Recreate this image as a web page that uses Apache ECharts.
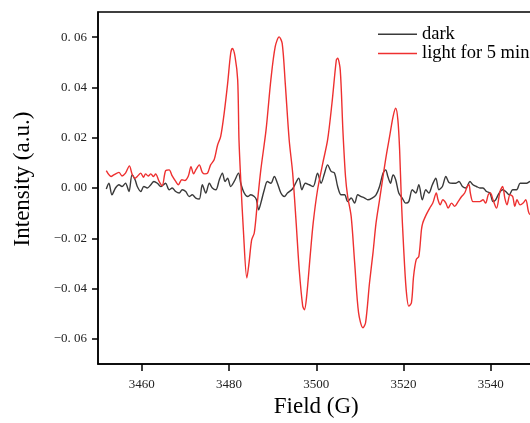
<!DOCTYPE html>
<html>
<head>
<meta charset="utf-8">
<script src="https://cdn.jsdelivr.net/npm/echarts@6/dist/echarts.min.js"></script>
<style>
html,body{margin:0;padding:0;background:#fff;}
#chart{width:530px;height:423px;}
</style>
</head>
<body>
<div id="chart"></div>
<script>
var xTicks = [3460, 3480, 3500, 3520, 3540];
var yTicks = [-0.06, -0.04, -0.02, 0.00, 0.02, 0.04, 0.06];
var seriesNames = ['dark', 'light for 5 min'];

var darkData = [
[3451.9,-0.0004],[3452.5,0.0019],[3453.2,-0.0027],[3454.0,0.0000],[3454.8,0.0013],[3455.5,0.0006],
[3456.3,0.0019],[3457.1,-0.0014],[3457.8,0.0052],[3458.5,0.0033],[3459.0,0.0006],[3459.8,-0.0014],
[3460.5,0.0006],[3461.3,0.0000],[3462.1,0.0013],[3462.8,0.0026],[3463.6,0.0019],[3464.4,0.0006],
[3465.0,0.0013],[3465.5,0.0019],[3466.3,-0.0007],[3467.0,0.0000],[3467.8,-0.0014],[3468.6,-0.0020],
[3469.3,-0.0007],[3470.1,-0.0014],[3470.9,-0.0034],[3471.6,-0.0027],[3472.4,-0.0040],[3473.2,-0.0044],
[3473.9,0.0013],[3474.7,-0.0020],[3475.5,0.0019],[3476.2,0.0000],[3477.0,-0.0007],[3477.8,0.0033],
[3478.5,0.0059],[3479.1,0.0026],[3479.7,0.0039],[3480.4,0.0006],[3481.2,0.0026],[3482.2,0.0059],
[3482.7,0.0019],[3483.5,-0.0020],[3484.3,-0.0034],[3485.0,-0.0027],[3485.8,-0.0034],[3486.3,-0.0047],
[3486.8,-0.0087],[3487.3,-0.0060],[3488.1,-0.0007],[3488.8,0.0026],[3489.6,0.0019],[3490.4,0.0046],
[3491.1,0.0019],[3491.9,-0.0020],[3492.7,-0.0034],[3493.4,-0.0020],[3494.6,-0.0003],[3496.0,0.0039],
[3496.7,-0.0007],[3497.5,0.0019],[3498.4,0.0013],[3499.3,0.0006],[3500.3,0.0059],[3501.1,0.0019],
[3501.9,0.0059],[3502.6,0.0092],[3503.4,0.0066],[3504.2,0.0059],[3504.9,0.0006],[3505.7,-0.0027],
[3506.5,-0.0027],[3507.2,-0.0054],[3508.0,-0.0040],[3508.8,-0.0060],[3509.5,-0.0027],[3510.3,-0.0034],
[3511.1,-0.0040],[3511.8,-0.0047],[3512.8,-0.0040],[3513.7,-0.0027],[3514.5,0.0006],[3515.3,0.0059],
[3515.9,0.0072],[3516.4,0.0046],[3517.0,0.0019],[3517.6,0.0052],[3518.2,0.0033],[3518.9,-0.0020],
[3519.7,-0.0040],[3520.5,-0.0060],[3521.2,-0.0054],[3522.0,-0.0007],[3522.8,-0.0020],[3523.5,0.0013],
[3524.3,-0.0047],[3525.1,-0.0007],[3525.8,-0.0020],[3526.6,0.0013],[3527.4,0.0039],[3528.1,-0.0007],
[3528.9,0.0006],[3529.7,0.0046],[3530.4,0.0022],[3531.2,0.0019],[3532.0,0.0019],[3532.7,0.0026],
[3533.5,0.0006],[3534.3,0.0000],[3535.2,0.0026],[3535.9,0.0013],[3536.7,0.0006],[3537.5,0.0000],
[3538.2,0.0000],[3539.0,-0.0014],[3539.8,-0.0020],[3540.5,-0.0054],[3541.1,-0.0047],[3541.9,-0.0020],
[3542.7,-0.0007],[3543.4,-0.0014],[3544.2,-0.0027],[3545.0,-0.0007],[3545.9,-0.0007],[3546.7,0.0019],
[3547.4,0.0019],[3548.2,0.0019],[3549.0,0.0026],[3549.6,0.0022],[3550.0,0.0024]
];

var lightData = [
[3451.9,0.0069],[3453.0,0.0046],[3453.6,0.0052],[3454.8,0.0062],[3455.5,0.0048],[3456.3,0.0059],
[3457.2,0.0088],[3457.8,0.0056],[3458.5,0.0039],[3459.0,0.0046],[3459.8,0.0059],[3460.4,0.0043],
[3460.9,0.0056],[3461.5,0.0048],[3462.1,0.0056],[3462.7,0.0046],[3463.2,0.0056],[3464.0,0.0026],
[3464.7,0.0009],[3465.5,0.0069],[3466.3,0.0072],[3467.0,0.0048],[3467.8,0.0026],[3468.4,0.0013],
[3469.2,0.0033],[3469.9,0.0030],[3470.7,0.0048],[3471.3,0.0085],[3471.9,0.0056],[3472.5,0.0075],
[3473.2,0.0092],[3473.9,0.0062],[3474.5,0.0056],[3475.1,0.0059],[3475.8,0.0092],[3476.6,0.0112],
[3477.4,0.0171],[3478.1,0.0204],[3478.9,0.0297],[3479.7,0.0416],[3480.4,0.0536],[3480.8,0.0555],
[3481.4,0.0522],[3482.0,0.0430],[3482.3,0.0191],[3482.7,0.0033],[3483.3,-0.0166],[3484.1,-0.0358],
[3484.6,-0.0298],[3485.2,-0.0206],[3485.8,-0.0179],[3486.5,-0.0060],[3487.3,0.0072],[3488.5,0.0231],
[3489.6,0.0430],[3490.6,0.0562],[3491.5,0.0601],[3492.2,0.0575],[3492.9,0.0416],[3493.8,0.0191],
[3494.6,0.0059],[3495.4,-0.0139],[3496.1,-0.0325],[3496.9,-0.0470],[3497.3,-0.0484],[3497.8,-0.0431],
[3498.6,-0.0272],[3499.3,-0.0139],[3500.3,-0.0007],[3501.5,0.0099],[3502.6,0.0191],[3503.6,0.0337],
[3504.6,0.0509],[3504.9,0.0516],[3505.5,0.0469],[3506.1,0.0231],[3506.7,0.0046],[3507.2,-0.0034],
[3508.0,-0.0113],[3508.8,-0.0298],[3509.7,-0.0497],[3510.7,-0.0556],[3511.3,-0.0536],[3512.2,-0.0378],
[3513.0,-0.0258],[3513.7,-0.0139],[3514.5,-0.0047],[3515.3,0.0046],[3516.0,0.0125],[3516.8,0.0204],
[3517.6,0.0284],[3518.2,0.0317],[3518.7,0.0271],[3519.1,0.0152],[3519.5,-0.0047],[3520.0,-0.0232],
[3520.6,-0.0404],[3521.2,-0.0470],[3521.8,-0.0457],[3522.3,-0.0351],[3522.9,-0.0285],[3523.5,-0.0272],
[3524.1,-0.0166],[3524.4,-0.0139],[3525.2,-0.0106],[3526.0,-0.0080],[3526.7,-0.0060],[3527.5,-0.0020],
[3527.9,-0.0047],[3528.4,-0.0067],[3529.0,-0.0047],[3529.7,-0.0060],[3530.2,-0.0080],[3531.0,-0.0060],
[3531.7,-0.0073],[3532.5,-0.0054],[3533.3,-0.0034],[3534.0,-0.0020],[3534.6,0.0006],[3535.0,0.0013],
[3535.3,-0.0020],[3535.9,-0.0054],[3536.7,-0.0054],[3537.5,-0.0054],[3538.2,-0.0047],[3538.8,-0.0060],
[3539.4,-0.0027],[3539.9,-0.0020],[3540.5,-0.0047],[3541.3,-0.0080],[3542.1,-0.0014],[3542.7,0.0006],
[3543.2,-0.0040],[3543.7,-0.0067],[3544.4,-0.0027],[3545.0,-0.0034],[3545.5,-0.0073],[3546.0,-0.0047],
[3546.7,-0.0067],[3547.4,-0.0060],[3548.0,-0.0047],[3548.6,-0.0093],[3549.0,-0.0106],[3550.0,-0.0100]
];

var serif = '"Liberation Serif", "DejaVu Serif", serif';
function yFmt(v) {
  var a = Math.round(Math.abs(v) * 100);
  var s = '0. ' + (a < 10 ? '0' + a : '' + a);
  return (v < -1e-9 ? '\u2212' : '') + s;
}
function xFmt(v) { return String(Math.round(v)); }

var chart = echarts.init(document.getElementById('chart'), null, {renderer: 'canvas'});
chart.setOption({
  animation: false,
  backgroundColor: '#fff',
  grid: {left: 98, top: 12, right: -4.5, bottom: 59, containLabel: false, outerBoundsMode: 'none',
         show: true, borderColor: '#000', borderWidth: 1.5, backgroundColor: 'transparent'},
  legend: {
    orient: 'vertical', left: 373, top: 19.5, itemGap: 0,
    icon: 'rect', itemWidth: 39, itemHeight: 1.5,
    textStyle: {fontFamily: serif, fontSize: 18.5, color: '#000', lineHeight: 19.3},
    data: seriesNames
  },
  xAxis: {
    type: 'value', min: 3450, max: 3550,
    name: 'Field (G)', nameLocation: 'middle', nameGap: 31,
    nameTextStyle: {fontFamily: serif, fontSize: 23, color: '#000'},
    axisLine: {show: true, onZero: false, lineStyle: {color: '#000', width: 1.5}},
    axisTick: {show: true, inside: false, length: 7, lineStyle: {color: '#000', width: 1.5}, customValues: xTicks},
    axisLabel: {show: true, margin: 14, fontFamily: serif, fontSize: 13, color: '#222', customValues: xTicks, formatter: xFmt},
    splitLine: {show: false}
  },
  yAxis: {
    type: 'value', min: -0.07, max: 0.07,
    axisLine: {show: true, onZero: false, lineStyle: {color: '#000', width: 1.5}},
    axisTick: {show: true, inside: false, length: 6, lineStyle: {color: '#000', width: 1.5}, customValues: yTicks},
    axisLabel: {show: true, margin: 11, fontFamily: serif, fontSize: 13, color: '#222', customValues: yTicks, formatter: yFmt},
    splitLine: {show: false}
  },
  graphic: [{
    type: 'text', x: 23, y: 179, rotation: Math.PI / 2,
    style: {text: 'Intensity (a.u.)', fontFamily: serif, fontSize: 23, fill: '#000', align: 'center', verticalAlign: 'middle'}
  }],
  series: [
    {name: seriesNames[0], type: 'line', data: darkData, showSymbol: false, smooth: 0.3,
     lineStyle: {color: '#3a3a3a', width: 1.4}, itemStyle: {color: '#3a3a3a'}, clip: true},
    {name: seriesNames[1], type: 'line', data: lightData, showSymbol: false, smooth: 0.3,
     lineStyle: {color: '#ee3030', width: 1.4}, itemStyle: {color: '#ee3030'}, clip: true}
  ]
});
</script>
</body>
</html>
